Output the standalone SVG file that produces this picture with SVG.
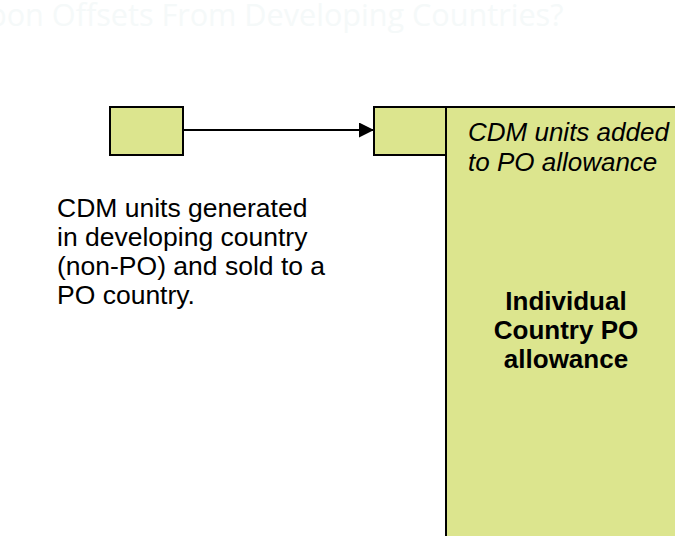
<svg xmlns="http://www.w3.org/2000/svg" width="675" height="536" viewBox="0 0 675 536">
  <defs>
    <marker id="arrow" viewBox="0 0 10 10" refX="10" refY="5" markerWidth="15" markerHeight="15" markerUnits="userSpaceOnUse" orient="auto">
      <path d="M0,0 L10,5 L0,10 z" fill="#000"/>
    </marker>
    <style>
      .box { fill: #dce58e; stroke: #000; stroke-width: 2; }
      .txt { font-family: "Liberation Sans", Arial, sans-serif; font-size: 26px; fill: #000; }
      .title { font-family: "Open Sans", "Noto Sans", sans-serif; font-size: 30.6px; fill: #f5f9f9; }
      .conn { stroke: #000; stroke-width: 2; fill: none; }
    </style>
  </defs>
  <rect width="675" height="536" fill="#fff"/>
  <text class="title" x="-12" y="26">bon Offsets From Developing Countries?</text>

  <g id="po-allowance">
    <rect class="box" x="446" y="107" width="240" height="440"/>
    <text class="txt" font-style="italic" x="468" y="141">CDM units added</text>
    <text class="txt" font-style="italic" x="468" y="171">to PO allowance</text>
    <text class="txt" font-weight="bold" text-anchor="middle" x="566" y="310">Individual</text>
    <text class="txt" font-weight="bold" text-anchor="middle" x="566" y="339">Country PO</text>
    <text class="txt" font-weight="bold" text-anchor="middle" x="566" y="368">allowance</text>
  </g>

  <g id="cdm-source">
    <rect class="box" x="110" y="107" width="73" height="48"/>
  </g>

  <g id="cdm-added">
    <rect class="box" x="374" y="107" width="72" height="48"/>
  </g>

  <g id="cdm-label" font-size="26.5">
    <text class="txt" style="font-size:26.5px" x="57" y="217">CDM units generated</text>
    <text class="txt" style="font-size:26.5px" x="57" y="246">in developing country</text>
    <text class="txt" style="font-size:26.5px" x="57" y="275">(non-PO) and sold to a</text>
    <text class="txt" style="font-size:26.5px" x="57" y="304">PO country.</text>
  </g>

  <g id="connectors">
    <line class="conn" x1="183" y1="130" x2="374" y2="130" marker-end="url(#arrow)"/>
  </g>
</svg>
